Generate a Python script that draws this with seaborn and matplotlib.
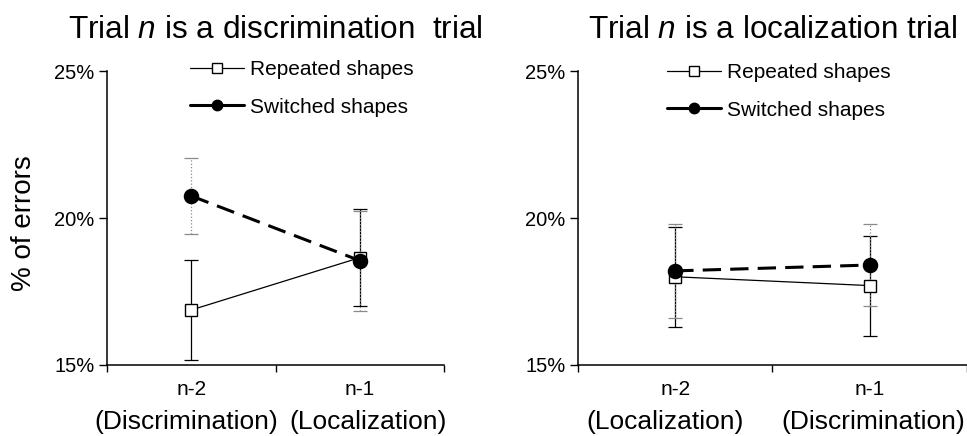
import numpy as np
import pandas as pd
import seaborn as sns
import matplotlib.pyplot as plt
import matplotlib.transforms as mtransforms
from matplotlib.lines import Line2D

sns.set_style("white")
plt.rcParams["font.family"] = ["Liberation Sans", "DejaVu Sans"]
plt.rcParams["mathtext.fontset"] = "custom"
plt.rcParams["mathtext.rm"] = "Liberation Sans"
plt.rcParams["mathtext.it"] = "Liberation Sans:italic"
plt.rcParams["text.color"] = "black"
plt.rcParams["axes.labelcolor"] = "black"
plt.rcParams["xtick.color"] = "black"
plt.rcParams["ytick.color"] = "black"

# data (percent of errors)
lags = ["n-2", "n-1"]
left_tasks = ["(Discrimination)", "(Localization)"]
right_tasks = ["(Localization)", "(Discrimination)"]

left_rep = [16.87, 18.65]
left_rep_err = [1.7, 1.65]
left_sw = [20.75, 18.55]
left_sw_err = [1.3, 1.7]

right_rep = [18.0, 17.7]
right_rep_err = [1.7, 1.7]
right_sw = [18.2, 18.4]
right_sw_err = [1.6, 1.4]

titles = ["Trial $\\mathit{n}$ is a discrimination  trial",
          "Trial $\\mathit{n}$ is a localization trial"]


def draw_panel(ax, rep, rep_err, sw, sw_err, tasks, title, task_shift):
    xpos = np.arange(len(lags))
    # error bars first so the markers sit on top
    ax.errorbar(xpos, rep, yerr=rep_err, fmt="none", ecolor="black",
                elinewidth=0.9, capsize=5, capthick=0.9, zorder=2)
    eb = ax.errorbar(xpos, sw, yerr=sw_err, fmt="none", ecolor="#8a8a8a",
                     elinewidth=0.9, capsize=5, capthick=0.9, zorder=2)
    eb[2][0].set_linestyle(":")

    sns.pointplot(x=lags, y=rep, color="black", marker="s", markersize=9,
                  markerfacecolor="white", markeredgecolor="black",
                  markeredgewidth=1.0, linewidth=0.9, linestyle="-",
                  errorbar=None, ax=ax, zorder=3)
    sns.pointplot(x=lags, y=sw, color="black", marker="o", markersize=9.5,
                  linewidth=2.2, linestyle=(0, (6, 3)),
                  errorbar=None, ax=ax, zorder=4)

    ax.set_xlim(-0.5, 1.5)
    ax.set_ylim(15, 25)
    ax.set_yticks([15, 20, 25])
    ax.set_yticklabels(["15%", "20%", "25%"], fontsize=14.5)
    ax.set_xticks([-0.5, 0.5, 1.5])
    ax.set_xticklabels([])
    ax.set_xticks(xpos, minor=True)
    ax.set_xticklabels(lags, minor=True, fontsize=15)
    ax.tick_params(axis="x", which="major", direction="out", length=5,
                   width=1, color="black", bottom=True)
    ax.tick_params(axis="x", which="minor", length=0, pad=11)
    ax.tick_params(axis="y", direction="out", length=6, width=1,
                   color="black", left=True, pad=3)
    ax.set_xlabel("")
    ax.set_ylabel("")
    for side in ["top", "right"]:
        ax.spines[side].set_visible(False)
    for side in ["left", "bottom"]:
        ax.spines[side].set_color("black")
        ax.spines[side].set_linewidth(1.1)

    trans = mtransforms.blended_transform_factory(ax.transData, ax.transAxes)
    for x, t, dx in zip(xpos, tasks, task_shift):
        ax.text(x + dx, -0.194, t, transform=trans, ha="center", va="center",
                fontsize=19)

    ax.set_title(title, fontsize=22.7, pad=24)


fig = plt.figure(figsize=(9.67, 4.36), dpi=100)
ax1 = fig.add_axes([0.1107, 0.163, 0.3485, 0.674])
ax2 = fig.add_axes([0.5977, 0.163, 0.4023, 0.674])

draw_panel(ax1, left_rep, left_rep_err, left_sw, left_sw_err, left_tasks,
           titles[0], (-0.03, 0.05))
draw_panel(ax2, right_rep, right_rep_err, right_sw, right_sw_err, right_tasks,
           titles[1], (-0.05, 0.02))

fig.text(0.025, 0.489, "% of errors", rotation=90, ha="center", va="center",
         fontsize=20)

handles = [
    Line2D([], [], color="black", linewidth=0.9, marker="s", markersize=7,
           markerfacecolor="white", markeredgecolor="black"),
    Line2D([], [], color="black", linewidth=2.2, linestyle="-",
           marker="o", markersize=7.5),
]
labels = ["Repeated shapes", "Switched shapes"]
for ax, x0, y0 in [(ax1, 190, 60), (ax2, 667, 63)]:
    ax.legend(handles, labels, loc="upper left",
              bbox_to_anchor=(x0 / 967, 1 - y0 / 436),
              bbox_transform=fig.transFigure, frameon=False, fontsize=15,
              handlelength=2.6, handletextpad=0.3, labelspacing=0.9,
              borderpad=0, borderaxespad=0)

fig.savefig("out.png", dpi=100)
